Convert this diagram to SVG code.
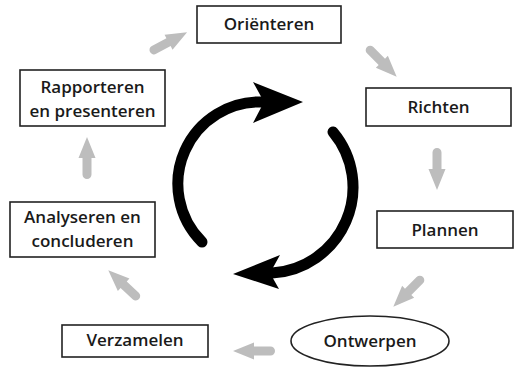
<svg xmlns="http://www.w3.org/2000/svg" xmlns:xlink="http://www.w3.org/1999/xlink" width="515" height="369" viewBox="0 0 515 369">
<style>
.box{fill:#fff;stroke:#222;stroke-width:1.6}
.t{font-family:"Open Sans","Noto Sans",sans-serif;font-weight:600;font-size:17px;fill:#1a1a1a;text-anchor:middle}
.ga{fill:#bdbdbd}
.arc{fill:none;stroke:#000;stroke-width:11;stroke-linecap:round}
</style>
<defs>
<path id="ga" class="ga" d="M4.5,-4.5 L21,-4.5 L21,-8.5 L42,0 L21,8.5 L21,4.5 L4.5,4.5 A4.5 4.5 0 0 1 4.5,-4.5Z"/>
</defs>
<rect width="515" height="369" fill="#fff"/>
<g id="connectors">
<use xlink:href="#ga" transform="translate(150,52) rotate(-28)"/>
<use xlink:href="#ga" transform="translate(367,47) rotate(45)"/>
<use xlink:href="#ga" transform="translate(437,148) rotate(90)"/>
<use xlink:href="#ga" transform="translate(423,277) rotate(135)"/>
<use xlink:href="#ga" transform="translate(275,351) rotate(180)"/>
<use xlink:href="#ga" transform="translate(139,299) rotate(223)"/>
<use xlink:href="#ga" transform="translate(87,179) rotate(-90)"/>
<g id="cycle">
<path class="arc" d="M202,242 A82 82 0 0 1 264,102"/>
<polygon points="303,102 253,82 264,102 253,123" fill="#000"/>
<path class="arc" d="M333,132 A86 86 0 0 1 272,273"/>
<polygon points="233,274 280,255 270,273 279,289" fill="#000"/>
</g>
</g>
<g id="orienteren"><rect class="box" x="197" y="6" width="144" height="37"/><text class="t" x="269" y="30">Oriënteren</text></g>
<g id="richten"><rect class="box" x="366" y="88" width="145" height="38"/><text class="t" x="438.5" y="113">Richten</text></g>
<g id="plannen"><rect class="box" x="377" y="211" width="136" height="37"/><text class="t" x="445" y="236">Plannen</text></g>
<g id="ontwerpen"><ellipse cx="370" cy="341" rx="79" ry="25" fill="#fff" stroke="#222" stroke-width="1.6"/><text class="t" x="370" y="347">Ontwerpen</text></g>
<g id="verzamelen"><rect class="box" x="62" y="325" width="146" height="32"/><text class="t" x="135" y="346">Verzamelen</text></g>
<g id="analyseren"><rect class="box" x="10" y="202" width="145" height="55"/><text class="t" x="82.5" y="223">Analyseren en</text><text class="t" x="82.5" y="247">concluderen</text></g>
<g id="rapporteren"><rect class="box" x="20" y="70" width="145" height="56"/><text class="t" x="92.5" y="93">Rapporteren</text><text class="t" x="92.5" y="117">en presenteren</text></g>
</svg>
